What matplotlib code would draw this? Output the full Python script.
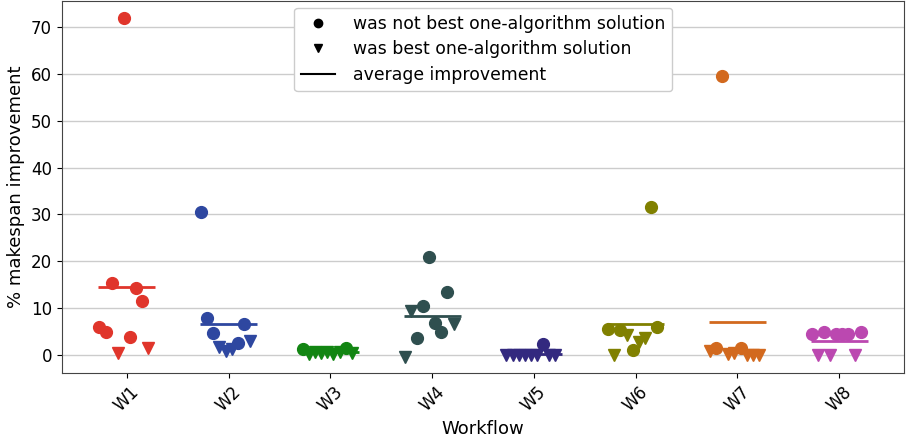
import matplotlib
matplotlib.use("Agg")
import matplotlib.pyplot as plt
import numpy as np
from matplotlib.lines import Line2D

# one list per workflow, runs in order; True = run was the best one-algorithm solution
workflows = ["W1", "W2", "W3", "W4", "W5", "W6", "W7", "W8"]

w1_vals = [6.0, 5.0, 15.4, 0.5, 71.8, 3.8, 14.4, 11.6, 1.5]
w1_best = [False, False, False, True, False, False, False, False, True]
w2_vals = [30.6, 7.9, 4.8, 1.8, 0.85, 1.4, 2.55, 6.6, 3.1]
w2_best = [False, False, False, True, True, True, False, False, True]
w3_vals = [1.3, 0.3, 0.8, 0.4, 0.6, 0.3, 0.6, 1.6, 0.4]
w3_best = [False, True, True, True, True, True, True, False, True]
w4_vals = [-0.35, 9.4, 3.6, 10.6, 20.85, 6.9, 5.0, 13.5, 6.7]
w4_best = [True, True, False, False, False, False, False, False, True]
w5_vals = [0.0, 0.0, 0.0, 0.0, 0.0, 0.0, 2.3, 0.0, 0.0]
w5_best = [True, True, True, True, True, True, False, True, True]
w6_vals = [5.6, 0.15, 5.3, 4.4, 1.2, 2.8, 3.7, 31.6, 6.0]
w6_best = [False, True, False, True, False, True, True, False, False]
w7_vals = [1.0, 1.5, 59.6, 0.3, 0.4, 1.5, 0.0, 0.0, 0.0]
w7_best = [True, False, False, True, True, False, True, True, True]
w8_vals = [4.6, 0.0, 4.9, 0.0, 4.6, 4.6, 4.6, 0.0, 4.9]
w8_best = [False, True, False, True, False, False, False, True, False]

all_vals = [w1_vals, w2_vals, w3_vals, w4_vals, w5_vals, w6_vals, w7_vals, w8_vals]
all_best = [w1_best, w2_best, w3_best, w4_best, w5_best, w6_best, w7_best, w8_best]

colors = ["#e0352b", "#2e47a0", "#128512", "#2f4f4f", "#33297f", "#808000", "#d2691e", "#bb48b0"]

fig, ax = plt.subplots(figsize=(9.08, 4.40), dpi=100)
fig.subplots_adjust(left=0.068, right=0.996, top=0.998, bottom=0.152)

for i, (vals, best, c) in enumerate(zip(all_vals, all_best, colors)):
    vals = np.array(vals)
    best = np.array(best)
    # spread runs evenly across the category slot
    xs = i - 0.27 + 0.06 * np.arange(len(vals))
    ax.plot(xs[~best], vals[~best], "o", color=c, ms=8.5, ls="none", zorder=3)
    ax.plot(xs[best], vals[best], "v", color=c, ms=8.5, ls="none", zorder=3)
    ax.hlines(vals.mean(), i - 0.28, i + 0.28, color=c, lw=2, zorder=2)

ax.set_xlim(-0.64, 7.64)
ax.set_ylim(-3.8, 75.5)
ax.set_xticks(range(len(workflows)))
ax.set_xticklabels(workflows, rotation=45, fontsize=12)
ax.tick_params(axis="y", labelsize=12)
ax.set_yticks(range(0, 80, 10))
ax.grid(axis="y", color="#cccccc", lw=1)
ax.set_axisbelow(True)
for s in ax.spines.values():
    s.set_color("#444444")

ax.set_xlabel("Workflow", fontsize=13)
ax.set_ylabel("% makespan improvement", fontsize=13)

handles = [
    Line2D([], [], marker="o", color="black", ls="none", ms=6),
    Line2D([], [], marker="v", color="black", ls="none", ms=6),
    Line2D([], [], color="black", lw=1.5),
]
labels = ["was not best one-algorithm solution", "was best one-algorithm solution",
          "average improvement"]
ax.legend(handles, labels, loc="upper center", fontsize=12.4, borderaxespad=0.4,
          handletextpad=1.0, labelspacing=0.45, framealpha=1)

fig.savefig("out.png", dpi=100)
